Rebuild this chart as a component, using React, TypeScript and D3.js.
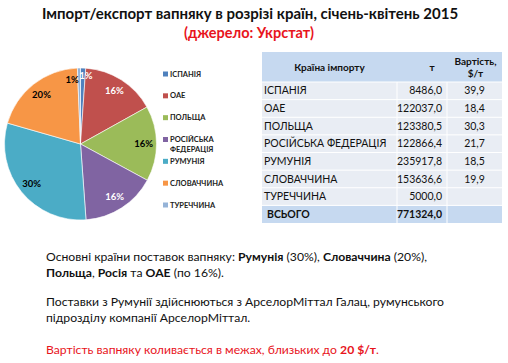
import * as d3 from 'd3';

const countries = ['ІСПАНІЯ', 'ОАЕ', 'ПОЛЬЩА', 'РОСІЙСЬКА ФЕДЕРАЦІЯ', 'РУМУНІЯ', 'СЛОВАЧЧИНА', 'ТУРЕЧЧИНА'];
const legendLabels = [['ІСПАНІЯ'], ['ОАЕ'], ['ПОЛЬЩА'], ['РОСІЙСЬКА', 'ФЕДЕРАЦІЯ'], ['РУМУНІЯ'], ['СЛОВАЧЧИНА'], ['ТУРЕЧЧИНА']];
const tonnes = [8486.0, 122037.0, 123380.5, 122866.4, 235917.8, 153636.6, 5000.0];
const prices: (number | null)[] = [39.9, 18.4, 30.3, 21.7, 18.5, 19.9, null];
const totalTonnes = 771324.0;
const pctLabels = ['1%', '16%', '16%', '16%', '30%', '20%', '1%'];
const colors = ['#4F81BD', '#C0504D', '#9BBB59', '#8064A2', '#4BACC6', '#F79646', '#95B3D7'];
const pctColors = ['#fff', '#fff', '#000', '#fff', '#000', '#000', '#000'];

const W = 508;
const H = 363;
const FONT = 'Lato, "Open Sans", sans-serif';

const fmt = (v: number) => d3.format('.1f')(v).replace('.', ',');

const App = () => {
  const cx = 80.5;
  const cy = 144;
  const r = 76;

  const pie = d3
    .pie<number>()
    .value((d) => d)
    .sort(null);
  const arcs = pie(tonnes);
  const arc = d3.arc<d3.PieArcDatum<number>>().innerRadius(0).outerRadius(r);
  const labelArc = d3.arc<d3.PieArcDatum<number>>().innerRadius(r * 0.83).outerRadius(r * 0.83);
  const smallArc = d3.arc<d3.PieArcDatum<number>>().innerRadius(r * 0.9).outerRadius(r * 0.9);

  // legend positions
  const legendY = d3.scalePoint<number>().domain(d3.range(countries.length)).range([74, 205]);

  // table
  const tx0 = 262;
  const colX = [262, 397, 447, 502];
  const headerTop = 52;
  const headerBottom = 82;
  const rowY = d3
    .scaleBand<number>()
    .domain(d3.range(countries.length + 1))
    .range([headerBottom, 223]);

  return (
    <svg
      width={W}
      height={H}
      style={{ position: 'absolute', left: 0, top: 0, background: '#fff' }}
      fontFamily={FONT}
    >
      {/* title */}
      <text x={250} y={19} textAnchor="middle" fontSize={15} fontWeight={700} fill="#111">
        Імпорт/експорт вапняку в розрізі країн, січень-квітень 2015
      </text>
      <text x={249} y={38} textAnchor="middle" fontSize={14.5} fontWeight={700} fill="#e8141c">
        (джерело: Укрстат)
      </text>

      {/* pie */}
      <g transform={`translate(${cx},${cy})`}>
        {arcs.map((a, i) => (
          <path key={i} d={arc(a) as string} fill={colors[i]} stroke="#fff" strokeWidth={0.6} />
        ))}
        {arcs.map((a, i) => {
          const small = a.data / totalTonnes < 0.02;
          const [x, y] = (small ? smallArc : labelArc).centroid(a);
          return (
            <text
              key={i}
              x={x + (small ? (i === 0 ? 3 : -7) : 0)}
              y={y + (small && i !== 0 ? 4 : 0)}
              dy="0.35em"
              textAnchor="middle"
              fontSize={9.5}
              fontWeight={700}
              fill={pctColors[i]}
            >
              {pctLabels[i]}
            </text>
          );
        })}
      </g>

      {/* legend */}
      {legendLabels.map((lines, i) => (
        <g key={i} transform={`translate(163,${legendY(i)})`}>
          <rect x={0} y={-2.5} width={5} height={5} fill={colors[i]} />
          {lines.map((l, j) => (
            <text key={j} x={7} y={j * 10} dy="0.35em" fontSize={7.5} fontWeight={700} fill="#222">
              {l}
            </text>
          ))}
        </g>
      ))}

      {/* table */}
      <rect x={tx0} y={headerTop} width={colX[3] - tx0} height={headerBottom - headerTop} fill="#c6d9f0" />
      {d3.range(countries.length + 1).map((i) => (
        <rect
          key={i}
          x={tx0}
          y={rowY(i)}
          width={colX[3] - tx0}
          height={rowY.bandwidth()}
          fill={i === countries.length ? '#c6d9f0' : '#e9edf4'}
        />
      ))}
      {/* white gridlines */}
      {d3.range(countries.length + 1).map((i) => (
        <line key={i} x1={tx0} x2={colX[3]} y1={rowY(i)} y2={rowY(i)} stroke="#fff" strokeWidth={1} />
      ))}
      {[colX[1], colX[2]].map((x, i) => (
        <line key={i} x1={x} x2={x} y1={headerBottom} y2={223} stroke="#fff" strokeWidth={1} />
      ))}
      <text x={(colX[0] + colX[1]) / 2} y={67} dy="0.35em" textAnchor="middle" fontSize={10} fontWeight={700} fill="#111">
        Країна імпорту
      </text>
      <text x={(colX[1] + colX[2]) / 2 + 10} y={67} dy="0.35em" textAnchor="middle" fontSize={10} fontWeight={700} fill="#111">
        т
      </text>
      <text x={(colX[2] + colX[3]) / 2 + 1} y={61} dy="0.35em" textAnchor="middle" fontSize={10} fontWeight={700} fill="#111">
        Вартість,
      </text>
      <text x={(colX[2] + colX[3]) / 2 + 1} y={73} dy="0.35em" textAnchor="middle" fontSize={10} fontWeight={700} fill="#111">
        $/т
      </text>
      {countries.map((c, i) => {
        const y = (rowY(i) as number) + rowY.bandwidth() / 2;
        return (
          <g key={i} fontSize={10.5} fill="#111">
            <text x={tx0 + 2} y={y} dy="0.35em">
              {c}
            </text>
            <text x={colX[2] - 5} y={y} dy="0.35em" textAnchor="end">
              {fmt(tonnes[i])}
            </text>
            {prices[i] !== null && (
              <text x={(colX[2] + colX[3]) / 2} y={y} dy="0.35em" textAnchor="middle">
                {fmt(prices[i] as number)}
              </text>
            )}
          </g>
        );
      })}
      <g fontSize={10.5} fontWeight={700} fill="#111">
        <text x={tx0 + 5} y={(rowY(countries.length) as number) + rowY.bandwidth() / 2} dy="0.35em">
          ВСЬОГО
        </text>
        <text
          x={colX[2] - 5}
          y={(rowY(countries.length) as number) + rowY.bandwidth() / 2}
          dy="0.35em"
          textAnchor="end"
        >
          {fmt(totalTonnes)}
        </text>
      </g>

      {/* notes */}
      <g fontSize={12.2} fill="#111">
        <text x={46} y={261}>
          Основні країни поставок вапняку: <tspan fontWeight={700}>Румунія</tspan> (30%),{' '}
          <tspan fontWeight={700}>Словаччина</tspan> (20%),
        </text>
        <text x={46} y={277}>
          <tspan fontWeight={700}>Польща</tspan>, <tspan fontWeight={700}>Росія</tspan> та{' '}
          <tspan fontWeight={700}>ОАЕ</tspan> (по 16%).
        </text>
        <text x={46} y={306}>
          Поставки з Румунії здійснюються з АрселорМіттал Галац, румунського
        </text>
        <text x={46} y={322}>
          підрозділу компанії АрселорМіттал.
        </text>
        <text x={46} y={354} fill="#e8141c">
          Вартість вапняку коливається в межах, близьких до <tspan fontWeight={700}>20 $/т</tspan>.
        </text>
      </g>
    </svg>
  );
};

export default App;
